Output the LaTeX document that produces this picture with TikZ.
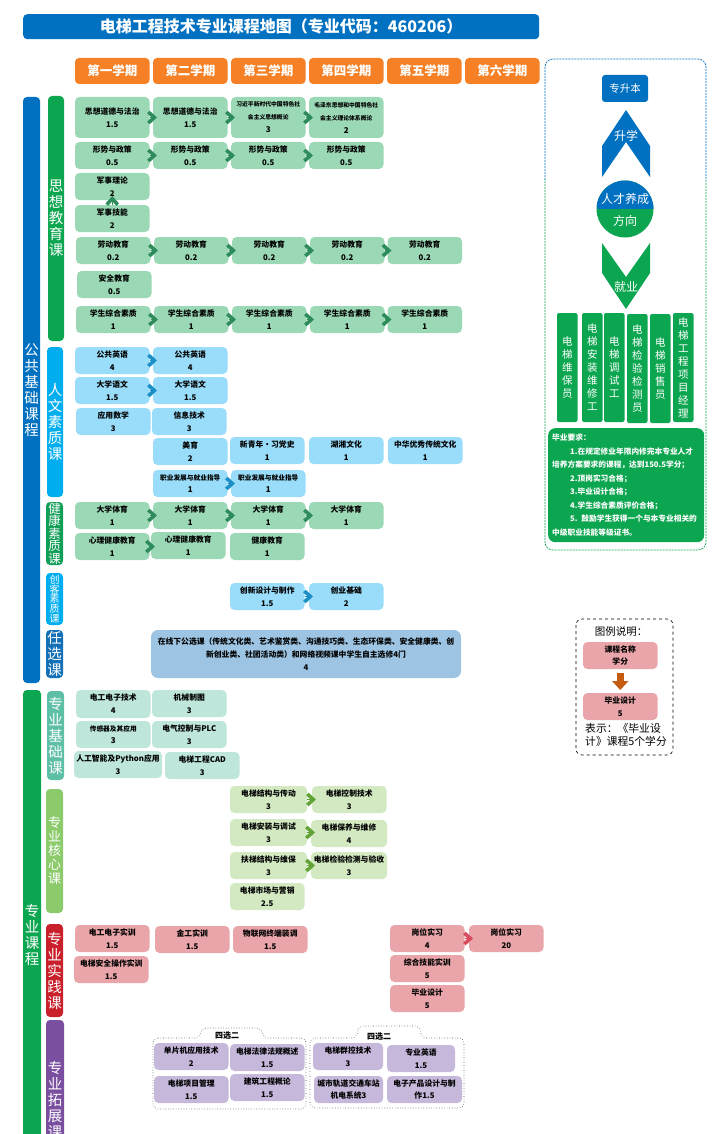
\documentclass[tikz,border=0pt]{standalone}
\usepackage{fontspec}
\setmainfont{Noto Sans CJK SC}
\usetikzlibrary{arrows.meta,positioning}
\definecolor{titleblue}{HTML}{0070C0}
\definecolor{termorange}{HTML}{F58025}
\definecolor{maingreen}{HTML}{0DA650}
\definecolor{skyblue}{HTML}{00AEEF}
\definecolor{healthgreen}{HTML}{119F57}
\definecolor{anyblue}{HTML}{136FB6}
\definecolor{basebar}{HTML}{5DBFA5}
\definecolor{corebar}{HTML}{8CCB6C}
\definecolor{practbar}{HTML}{C9202C}
\definecolor{extbar}{HTML}{7A4FA0}
\definecolor{gfill}{HTML}{9BD9B6}
\definecolor{bfill}{HTML}{9ADDFA}
\definecolor{anyfill}{HTML}{9DC5E3}
\definecolor{tfill}{HTML}{BEE6DB}
\definecolor{lfill}{HTML}{D3E9C2}
\definecolor{pfill}{HTML}{E9A5A9}
\definecolor{vfill}{HTML}{C6B8DB}
\definecolor{gchev}{HTML}{2E8B5B}
\definecolor{bchev}{HTML}{1B90C6}
\definecolor{lchev}{HTML}{62A437}
\definecolor{rchev}{HTML}{D84A5C}
\definecolor{brownarrow}{HTML}{C55A11}
\tikzset{
  course/.style={rounded corners=4.5pt,anchor=north west,inner sep=0pt,outer sep=0pt,align=center,
    minimum width=74.5pt,minimum height=27pt,text=black,
    font=\fontsize{7.8}{12.7}\selectfont\bfseries},
  green/.style={course,fill=gfill},
  sky/.style={course,fill=bfill},
  teal/.style={course,fill=tfill},
  lime/.style={course,fill=lfill},
  pink/.style={course,fill=pfill},
  violet/.style={course,fill=vfill},
  tiny/.style={font=\fontsize{5.8}{13}\selectfont\bfseries},
  mini/.style={font=\fontsize{6.7}{12.7}\selectfont\bfseries},
  term/.style={rounded corners=4pt,anchor=north west,inner sep=0pt,outer sep=0pt,fill=termorange,text=white,
    minimum width=74.5pt,minimum height=26pt,font=\fontsize{12.5}{14}\selectfont\bfseries},
  vbar/.style={rounded corners=4pt,anchor=north west,inner sep=0pt,outer sep=0pt,text=white,align=center,
    minimum width=17pt,font=\fontsize{14.5}{16}\selectfont},
  job/.style={rounded corners=2pt,anchor=north west,inner sep=0pt,outer sep=0pt,text=white,align=center,
    fill=maingreen,minimum width=20.5pt,minimum height=109pt,font=\fontsize{10.5}{13}\selectfont},
  chev/.style={line width=0.1pt,shorten >=-4pt,
    -{Straight Barb[length=6pt,width=11pt,line width=3.6pt]}},
  group/.style={draw=black!70,dotted,line width=0.6pt,rounded corners=5pt},
  plain/.style={inner sep=0pt,text=white,font=\fontsize{12}{14}\selectfont},
  panel/.style={dash pattern=on 2pt off 1pt,line width=0.7pt,rounded corners=8pt},
}
\begin{document}
\begin{tikzpicture}[x=1pt,y=-1pt]
\useasboundingbox (0,0) rectangle (720,1134);
\clip (0,0) rectangle (720,1134);
% title and terms
\node[rounded corners=4pt,anchor=north west,fill=titleblue,text=white,minimum width=516pt,minimum height=25pt,inner sep=0pt,
  font=\fontsize{16}{18}\selectfont\bfseries] (title) at (23,14) {电梯工程技术专业课程地图（专业代码：460206）};
\node[term] (t1) at (75,58) {第一学期};
\node[term] (t2) [right =3.5pt of t1] {第二学期};
\node[term] (t3) [right =3.5pt of t2] {第三学期};
\node[term] (t4) [right =3.5pt of t3] {第四学期};
\node[term] (t5) [right =3.5pt of t4] {第五学期};
\node[term] (t6) [right =3.5pt of t5] {第六学期};
% category bars
\node[vbar,fill=titleblue,minimum height=586pt] (pub) at (23,97) {公\\共\\基\\础\\课\\程};
\node[vbar,fill=maingreen,minimum width=16pt,minimum height=245pt] (sx) at (48,96) {思\\想\\教\\育\\课};
\node[vbar,fill=skyblue,minimum width=16pt,minimum height=150pt] (rw) at (47,347) {人\\文\\素\\质\\课};
\node[vbar,fill=healthgreen,minimum height=63pt,font=\fontsize{12.5}{12.6}\selectfont] (jk) at (46,502) {健\\康\\素\\质\\课};
\node[vbar,fill=skyblue,minimum height=52pt,font=\fontsize{10}{9.6}\selectfont] (ck) at (46,573) {创\\客\\素\\质\\课};
\node[vbar,fill=anyblue,minimum height=48pt] (rx) at (46,630) {任\\选\\课};
\node[vbar,fill=maingreen,minimum width=18pt,minimum height=490pt] (zy) at (23,690) {专\\业\\课\\程};
\node[vbar,fill=basebar,minimum height=89pt] (jc) at (47,691) {专\\业\\基\\础\\课};
\node[vbar,fill=corebar,minimum height=124pt,font=\fontsize{13}{14}\selectfont] (hx) at (46,789) {专\\业\\核\\心\\课};
\node[vbar,fill=practbar,minimum height=93pt] (sj) at (46,924) {专\\业\\实\\践\\课};
\node[vbar,fill=extbar,minimum width=18pt,minimum height=160pt] (tz) at (46,1020) {专\\业\\拓\\展\\课};
% ideology courses
\node[green,minimum height=41pt] (dd1) at (75,97) {思想道德与法治\\1.5};
\node[green,minimum height=41pt] (dd2) [right =3.5pt of dd1] {思想道德与法治\\1.5};
\node[green,tiny,minimum height=41pt] (xi) [right =3.5pt of dd2] {习近平新时代中国特色社\\会主义思想概论\\{\fontsize{8}{13}\selectfont 3}};
\node[green,tiny,minimum height=41pt] (mao) [right =3.5pt of xi] {毛泽东思想和中国特色社\\会主义理论体系概论\\{\fontsize{8}{13}\selectfont 2}};
\node[green] (xs1) at (75,142) {形势与政策\\0.5};
\node[green] (xs2) [right =3.5pt of xs1] {形势与政策\\0.5};
\node[green] (xs3) [right =3.5pt of xs2] {形势与政策\\0.5};
\node[green] (xs4) [right =3.5pt of xs3] {形势与政策\\0.5};
\node[green] (js1) at (75,173) {军事理论\\2};
\node[green] (js2) at (75,205) {军事技能\\2};
\node[green] (ld1) at (76,237) {劳动教育\\0.2};
\node[green] (ld2) [right =3.5pt of ld1] {劳动教育\\0.2};
\node[green] (ld3) [right =3.5pt of ld2] {劳动教育\\0.2};
\node[green] (ld4) [right =3.5pt of ld3] {劳动教育\\0.2};
\node[green] (ld5) [right =3pt of ld4] {劳动教育\\0.2};
\node[green] (aq) at (77,271) {安全教育\\0.5};
\node[green] (zh1) at (76,306) {学生综合素质\\1};
\node[green] (zh2) [right =3.5pt of zh1] {学生综合素质\\1};
\node[green] (zh3) [right =3.5pt of zh2] {学生综合素质\\1};
\node[green] (zh4) [right =3.5pt of zh3] {学生综合素质\\1};
\node[green] (zh5) [right =3pt of zh4] {学生综合素质\\1};
% humanities courses
\node[sky] (yy1) at (75,347) {公共英语\\4};
\node[sky] (yy2) [right =3.5pt of yy1] {公共英语\\4};
\node[sky] (yw1) at (75,377) {大学语文\\1.5};
\node[sky] (yw2) [right =3.5pt of yw1] {大学语文\\1.5};
\node[sky] (sx1) at (76,408) {应用数学\\3};
\node[sky] (xx) at (152,408) {信息技术\\3};
\node[sky] (my) at (153,438) {美育\\2};
\node[sky] (dsh) at (230,437) {新青年·习党史\\1};
\node[sky] (hx1) at (309,437) {湖湘文化\\1};
\node[sky] (zh) at (388,437) {中华优秀传统文化\\1};
\node[sky,mini] (zy1) at (153,470) {职业发展与就业指导\\{\fontsize{8}{12.7}\selectfont 1}};
\node[sky,mini] (zy2) [right =3.5pt of zy1] {职业发展与就业指导\\{\fontsize{8}{12.7}\selectfont 1}};
% health courses
\node[green] (ty1) at (75,502) {大学体育\\1};
\node[green] (ty2) [right =3.5pt of ty1] {大学体育\\1};
\node[green] (ty3) [right =3.5pt of ty2] {大学体育\\1};
\node[green] (ty4) [right =3.5pt of ty3] {大学体育\\1};
\node[green] (xl1) at (75,533) {心理健康教育\\1};
\node[green] (xl2) at (151,532) {心理健康教育\\1};
\node[green] (jk1) at (230,533) {健康教育\\1};
% maker courses
\node[sky] (cx) at (230,583) {创新设计与制作\\1.5};
\node[sky] (cy) [right =4.5pt of cx] {创业基础\\2};
\node[course,fill=anyfill,minimum width=310pt,minimum height=48pt,rounded corners=7pt] (gx) at (151,630)
{在线下公选课（传统文化类、艺术鉴赏类、沟通技巧类、生态环保类、安全健康类、创\\新创业类、社团活动类）和网络视频课中学生自主选修4门\\4};
% base courses
\node[teal,minimum height=28pt] (dg) at (76,690) {电工电子技术\\4};
\node[teal] (jx) at (152,690) {机械制图\\3};
\node[teal,mini] (cg) at (76,721) {传感器及其应用\\{\fontsize{8}{12.7}\selectfont 3}};
\node[teal] (dq) at (152,721) {电气控制与PLC\\3};
\node[teal,minimum width=88pt] (ai) at (74,751) {人工智能及Python应用\\3};
\node[teal] (cad) at (165,752) {电梯工程CAD\\3};
% core courses
\node[lime,minimum width=77pt] (jg) at (230,786) {电梯结构与传动\\3};
\node[lime] (kz) at (312,786) {电梯控制技术\\3};
\node[lime,minimum width=77pt] (az) at (230,819) {电梯安装与调试\\3};
\node[lime,minimum width=76pt] (by) at (311,820) {电梯保养与维修\\4};
\node[lime,minimum width=77pt] (ft) at (230,852) {扶梯结构与维保\\3};
\node[lime,minimum width=76pt] (jy) at (311,852) {电梯检验检测与验收\\3};
\node[lime] (sc) at (230,883) {电梯市场与营销\\2.5};
% practice courses
\node[pink] (dgs) at (75,925) {电工电子实训\\1.5};
\node[pink] (jg1) at (155,926) {金工实训\\1.5};
\node[pink] (wl) at (233,926) {物联网终端装调\\1.5};
\node[pink] (aqs) at (74,956) {电梯安全操作实训\\1.5};
\node[pink] (gw1) at (390,925) {岗位实习\\4};
\node[pink] (gw2) [right =4.5pt of gw1] {岗位实习\\20};
\node[pink] (jn) at (390,955) {综合技能实训\\5};
\node[pink] (bs) at (390,985) {毕业设计\\5};
% elective groups
\draw[group] (153,1038) -- (200,1038) -- (201,1028) -- (262,1028) -- (263,1038) -- (306,1038) -- (306,1109) -- (153,1109) -- cycle;
\draw[group] (310,1038) -- (357,1038) -- (358,1026) -- (420,1026) -- (421,1038) -- (464,1038) -- (464,1108) -- (310,1108) -- cycle;
\node[inner sep=0pt,font=\fontsize{8}{10}\selectfont\bfseries] (sx2a) at (227,1036) {四选二};
\node[inner sep=0pt,font=\fontsize{8}{10}\selectfont\bfseries] (sx2b) at (379,1037) {四选二};
\node[violet] (dp) at (154,1043) {单片机应用技术\\2};
\node[violet] (fl) at (230,1044) {电梯法律法规概述\\1.5};
\node[violet] (xm) at (154,1076) {电梯项目管理\\1.5};
\node[violet] (jz) at (230,1074) {建筑工程概论\\1.5};
\node[violet,minimum width=70pt] (qk) at (313,1043) {电梯群控技术\\3};
\node[violet,minimum width=68pt] (yy) at (387,1045) {专业英语\\1.5};
\node[violet,minimum width=69pt] (gd) at (314,1076) {城市轨道交通车站\\机电系统3};
\node[violet,minimum width=75pt] (dz) at (387,1076) {电子产品设计与制\\作1.5};
% chevrons
\draw[chev,gchev] (dd1.east) -- (dd2.west);
\draw[chev,gchev] (dd2.east) -- (xi.west);
\draw[chev,gchev] (xi.east) -- (mao.west);
\draw[chev,gchev] (xs1.east) -- (xs2.west);
\draw[chev,gchev] (xs2.east) -- (xs3.west);
\draw[chev,gchev] (xs3.east) -- (xs4.west);
\draw[chev,gchev] (js2.north) -- (js1.south);
\draw[chev,gchev] (ld1.east) -- (ld2.west);
\draw[chev,gchev] (ld2.east) -- (ld3.west);
\draw[chev,gchev] (ld3.east) -- (ld4.west);
\draw[chev,gchev] (ld4.east) -- (ld5.west);
\draw[chev,gchev] (zh1.east) -- (zh2.west);
\draw[chev,gchev] (zh2.east) -- (zh3.west);
\draw[chev,gchev] (zh3.east) -- (zh4.west);
\draw[chev,gchev] (zh4.east) -- (zh5.west);
\draw[chev,bchev] (yy1.east) -- (yy2.west);
\draw[chev,bchev] (yw1.east) -- (yw2.west);
\draw[chev,bchev] (zy1.east) -- (zy2.west);
\draw[chev,gchev] (ty1.east) -- (ty2.west);
\draw[chev,gchev] (ty2.east) -- (ty3.west);
\draw[chev,gchev] (ty3.east) -- (ty4.west);
\draw[chev,gchev] (xl1.east) -- (xl1.east -| xl2.west);
\draw[chev,bchev] (cx.east) -- (cy.west);
\draw[chev,lchev] (jg.east) -- (kz.west);
\draw[chev,lchev] (az.east) -- (az.east -| by.west);
\draw[chev,lchev] (ft.east) -- (jy.west);
\draw[chev,rchev] (gw1.east) -- (gw2.west);
% right panel
\begin{scope}
\clip (540,50) rectangle (715,180);
\draw[titleblue,panel] (545,59) rectangle (706,550);
\end{scope}
\begin{scope}
\clip (540,180) rectangle (715,560);
\draw[maingreen,panel] (545,59) rectangle (706,550);
\end{scope}
\node[rounded corners=3pt,fill=titleblue,text=white,minimum width=46pt,minimum height=27pt,inner sep=0pt,
  font=\fontsize{10.5}{12}\selectfont] (zsb) at (625,88.5) {专升本};
\fill[titleblue] (626,110) -- (650,146) -- (650,177) -- (626,142) -- (602,177) -- (602,146) -- cycle;
\node[plain] (sxue) at (626,136) {升学};
\node[circle,fill=maingreen,minimum size=57pt,inner sep=0pt,
  path picture={\fill[titleblue] (path picture bounding box.north west) rectangle (path picture bounding box.east);}] (rc) at (625,209) {};
\node[plain,font=\fontsize{12}{14}\selectfont] (rc1) at (625,199) {人才养成};
\node[plain] (rc2) at (625,221) {方向};
\fill[maingreen] (602,243) -- (626,277) -- (650,243) -- (650,273) -- (626,309) -- (602,273) -- cycle;
\node[plain] (jye) at (626,287) {就业};
\node[job] (j1) at (557,313) {电\\梯\\维\\保\\员};
\node[job] (j2) at (582,313) {电\\梯\\安\\装\\维\\修\\工};
\node[job] (j3) at (604,313) {电\\梯\\调\\试\\工};
\node[job] (j4) at (627,314) {电\\梯\\检\\验\\检\\测\\员};
\node[job] (j5) at (650,314) {电\\梯\\销\\售\\员};
\node[job] (j6) at (673,313) {电\\梯\\工\\程\\项\\目\\经\\理};
\node[rounded corners=7pt,anchor=north west,fill=maingreen,text=white,minimum width=154pt,minimum height=114pt,
  inner xsep=4pt,inner ysep=0pt,text width=148pt,align=left,font=\fontsize{7.7}{13.5}\selectfont\bfseries] (req) at (548,428)
{毕业要求：\\
\hspace*{18pt}1.在规定修业年限内修完本专业人才\\
培养方案要求的课程，达到150.5学分；\\
\hspace*{18pt}2.顶岗实习合格；\\
\hspace*{18pt}3.毕业设计合格；\\
\hspace*{18pt}4.学生综合素质评价合格；\\
\hspace*{18pt}5. 鼓励学生获得一个与本专业相关的\\
中级职业技能等级证书。};
% legend
\draw[black,dashed,line width=0.6pt,rounded corners=6pt] (576,619) rectangle (673,755);
\node[inner sep=0pt,font=\fontsize{10.5}{12}\selectfont] (lt) at (621,632) {图例说明：};
\node[pink] (l1) at (583,642) {课程名称\\学分};
\node[pink] (l2) at (583,693) {毕业设计\\5};
\draw[brownarrow,line width=7pt,shorten <=4pt,shorten >=3pt,-{Triangle[width=16pt,length=9pt]}] (l1.south) -- (l2.north);
\node[inner sep=0pt,anchor=north west,align=left,font=\fontsize{10.8}{13.3}\selectfont] (ls) at (585,723) {表示：《毕业设\\计》课程5个学分};
\end{tikzpicture}
\end{document}
